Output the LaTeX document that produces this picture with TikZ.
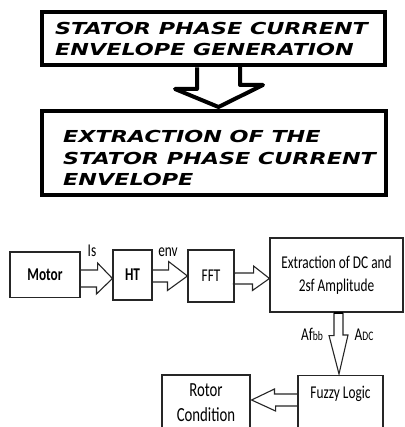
\documentclass[tikz,border=0pt]{standalone}
\usepackage{fontspec}
\usetikzlibrary{calc}
\newfontfamily\calfont{Carlito}[FakeStretch=0.74]
\newfontfamily\topfont{DejaVu Sans}[FakeStretch=1.35]
\begin{document}
\begin{tikzpicture}[x=1pt,y=-1pt,
  bigbox/.style={draw=black,line width=4pt,inner sep=0pt},
  toptext/.style={font=\topfont\bfseries\itshape\fontsize{16.5}{21.5}\selectfont,align=left,inner sep=0pt,anchor=north west},
  blk/.style={draw=black!85,line width=1.1pt,inner sep=0pt,font=\calfont\fontsize{18}{22.5}\selectfont},
  ln/.style={draw=black!85,line width=1.1pt,line join=miter},
  thk/.style={draw=black,line width=4pt,line join=round},
  lbl/.style={font=\calfont\fontsize{18}{18}\selectfont,inner sep=0pt,anchor=base}]
\useasboundingbox (0,0) rectangle (404,427);
\clip (0,0) rectangle (404,427);
\fill[white] (0,0) rectangle (404,427);

% top part
\node[bigbox,minimum width=343pt,minimum height=53.5pt] (b1) at (213.5,38.75) {};
\node[toptext] (t1) at (55,21.7) {STATOR PHASE CURRENT\\ENVELOPE GENERATION};
\node[bigbox,minimum width=344pt,minimum height=84pt] (b2) at (214,153) {};
\node[toptext] (t2) at (63,130.5) {EXTRACTION OF THE\\STATOR PHASE CURRENT\\ENVELOPE};
\draw[thk] ($(b1.south)+(-16.5,0)$) -- ++(0,21.5) -- ++(-22,0)
  -- ($(b2.north)+(4.5,-2)$) -- ++(44.5,-22) -- ++(-23,0) -- ++(0,-21.5);

% bottom part
\node[blk,minimum width=70pt,minimum height=45.5pt,font=\calfont\bfseries\fontsize{18}{22}\selectfont] (motor) at (45,274.75) {Motor};
\node[blk,minimum width=39pt,minimum height=50pt,font=\calfont\bfseries\fontsize{18}{22}\selectfont] (ht) at (132.5,275) {HT};
\node[blk,minimum width=46pt,minimum height=52pt] (fft) at (211,276) {FFT};
\node[blk,minimum width=133pt,minimum height=74pt,align=center] (ext) at (336.5,275) {Extraction of DC and\\2sf Amplitude};
\node[blk,minimum width=85pt,text height=23pt,text depth=42pt,anchor=north] (fuzzy) at (340.5,375) {Fuzzy Logic};
\node[blk,minimum width=88pt,minimum height=56pt,align=center,font=\calfont\fontsize{20}{25}\selectfont] (rotor) at (206,403) {Rotor\\Condition};

% hollow arrows
\draw[ln] ($(motor.east)+(0,-4.75)$) -- ++(17,0) -- ++(0,-7)
  -- ($(ht.west)+(0,3.5)$) -- ++(-16,15.5) -- ++(0,-7) -- ++(-17,0);
\draw[ln] ($(ht.east)+(0,-5)$) -- ++(16,0) -- ++(0,-8.5)
  -- (fft.west) -- ++(-20,14.5) -- ++(0,-8.5) -- ++(-16,0);
\draw[ln] ($(fft.east)+(0,-3)$) -- ++(19,0) -- ++(0,-7)
  -- ($(ext.west)+(0,3.5)$) -- ++(-17,12) -- ++(0,-6.5) -- ++(-19,0) -- cycle;
\draw[ln] ($(ext.south)+(-2.5,0)$) -- ++(0,23) -- ++(-5,0)
  -- ($(fuzzy.north)+(-1.5,-1)$) -- ++(9,-39) -- ++(-5,0) -- ++(0,-23);
\draw[draw=black,line width=2.5pt] ($(ext.south)+(-2.5,0.5)$) -- ++(9,0);
\draw[ln] ($(fuzzy.north west)+(0,19)$) -- ++(-23,0) -- ++(0,-5)
  -- ($(rotor.east)+(1,-3)$) -- ++(24,11) -- ++(0,-5) -- ++(23,0);

% labels
\node[lbl] (lis) at (92,256) {Is};
\node[lbl] (lenv) at (168,256) {env};
\node[lbl] (laf) at (312,340) {Af{\fontsize{13}{13}\selectfont bb}};
\node[lbl] (ladc) at (364,340) {A{\fontsize{13}{13}\selectfont DC}};
\end{tikzpicture}
\end{document}
